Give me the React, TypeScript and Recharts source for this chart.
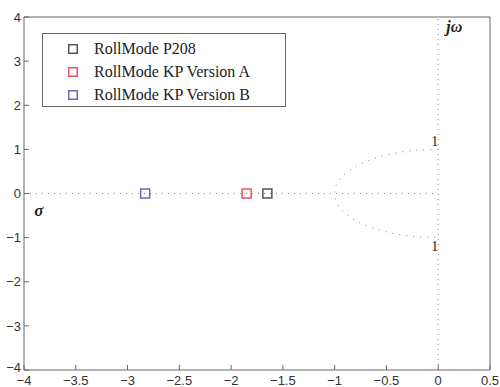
import React from "react"
import {
  ComposedChart,
  Line,
  Scatter,
  XAxis,
  YAxis,
  Legend,
  ReferenceDot,
} from "recharts"

const xTicks = [-4, -3.5, -3, -2.5, -2, -1.5, -1, -0.5, 0, 0.5]
const yTicks = [-4, -3, -2, -1, 0, 1, 2, 3, 4]

// poles
const p208 = [{ x: -1.65, y: 0 }]
const kpA = [{ x: -1.85, y: 0 }]
const kpB = [{ x: -2.83, y: 0 }]

// dotted guide lines
const realAxis = [{ x: -4, y: 0 }, { x: 0, y: 0 }]
const imagAxis = [{ x: 0, y: -4 }, { x: 0, y: 4 }]
const arc = [
  { x: 0, y: 1 },
  { x: -0.26, y: 0.97 },
  { x: -0.5, y: 0.87 },
  { x: -0.71, y: 0.71 },
  { x: -0.87, y: 0.5 },
  { x: -0.97, y: 0.26 },
  { x: -1, y: 0 },
  { x: -0.97, y: -0.26 },
  { x: -0.87, y: -0.5 },
  { x: -0.71, y: -0.71 },
  { x: -0.5, y: -0.87 },
  { x: -0.26, y: -0.97 },
  { x: 0, y: -1 },
]

const series = [
  { name: "RollMode P208", data: p208, color: "#555555" },
  { name: "RollMode KP Version A", data: kpA, color: "#e8555a" },
  { name: "RollMode KP Version B", data: kpB, color: "#6a6ab8" },
]

const AXIS = "#666"
const fmt = (v: number) => String(v).replace("-", "\u2212")

const BottomTick = (props: any) => {
  const { x, y, payload } = props
  return (
    <g>
      <line x1={x} y1={y} x2={x} y2={y - 5} stroke={AXIS} />
      <text x={x} y={y + 15} textAnchor="middle" fontSize={13} fill="#333" fontFamily="Liberation Sans, Arial">
        {fmt(payload.value)}
      </text>
    </g>
  )
}
const TopTick = (props: any) => {
  const { x, y } = props
  return <line x1={x} y1={y} x2={x} y2={y + 5} stroke={AXIS} />
}
const LeftTick = (props: any) => {
  const { x, y, payload } = props
  // lowest label sits a little higher so it clears the x label below it
  const ty = payload.value === -4 ? y - 3 : y
  return (
    <g>
      <line x1={x} y1={y} x2={x + 5} y2={y} stroke={AXIS} />
      <text x={x - 3} y={ty} dy="0.36em" textAnchor="end" fontSize={13} fill="#333" fontFamily="Liberation Sans, Arial">
        {fmt(payload.value)}
      </text>
    </g>
  )
}
const RightTick = (props: any) => {
  const { x, y } = props
  return <line x1={x} y1={y} x2={x - 5} y2={y} stroke={AXIS} />
}

const square = (color: string) => (props: any) => {
  const { cx, cy } = props
  return <rect x={cx - 4.5} y={cy - 4.5} width={9} height={9} fill="none" stroke={color} strokeWidth={1.5} />
}

const LegendBox = () => (
  <div
    style={{
      border: "1px solid #666",
      background: "#fff",
      width: 244,
      height: 74,
      boxSizing: "border-box",
      padding: "3px 0 0 25px",
      fontFamily: "Liberation Serif, Times New Roman, serif",
      fontSize: 16,
      color: "#222",
    }}
  >
    {series.map((s) => (
      <div key={s.name} style={{ display: "flex", alignItems: "center", height: 23 }}>
        <svg width={10} height={10} style={{ marginRight: 16 }}>
          <rect x={0.75} y={0.75} width={8.5} height={8.5} fill="none" stroke={s.color} strokeWidth={1.5} />
        </svg>
        <span>{s.name}</span>
      </div>
    ))}
  </div>
)

const textLabel = (txt: string, dx: number, dy: number, size: number, style: any) => (props: any) => {
  const { viewBox } = props
  const cx = viewBox.x + (viewBox.width || 0) / 2
  const cy = viewBox.y + (viewBox.height || 0) / 2
  return (
    <text x={cx + dx} y={cy + dy} fontSize={size} fontFamily="Liberation Serif, Times New Roman, serif" fill="#222"
      stroke="none" {...style}>
      {txt}
    </text>
  )
}

export default function App() {
  return (
    <div style={{ position: "absolute", left: 0, top: 0, background: "#fff" }}>
      <ComposedChart width={500} height={387} margin={{ top: 0, right: 0, bottom: 0, left: 0 }}>
        <XAxis xAxisId="b" type="number" dataKey="x" domain={[-4, 0.5]} ticks={xTicks} orientation="bottom" height={17}
          stroke={AXIS} tickSize={0} tickMargin={0} tick={<BottomTick />} interval={0} />
        <XAxis xAxisId="t" type="number" dataKey="x" domain={[-4, 0.5]} ticks={xTicks} orientation="top" height={17}
          stroke={AXIS} tickSize={0} tickMargin={0} tick={<TopTick />} interval={0} />
        <YAxis yAxisId="l" type="number" dataKey="y" domain={[-4, 4]} ticks={yTicks} orientation="left" width={24}
          stroke={AXIS} tickSize={0} tickMargin={0} tick={<LeftTick />} interval={0} />
        <YAxis yAxisId="r" type="number" dataKey="y" domain={[-4, 4]} ticks={yTicks} orientation="right" width={10}
          stroke={AXIS} tickSize={0} tickMargin={0} tick={<RightTick />} interval={0} />

        <Line xAxisId="b" yAxisId="l" data={realAxis} dataKey="y" stroke="#888" strokeDasharray="1 5" dot={false}
          isAnimationActive={false} legendType="none" />
        <Line xAxisId="b" yAxisId="l" data={imagAxis} dataKey="y" stroke="#888" strokeDasharray="1 4" dot={false}
          isAnimationActive={false} legendType="none" />
        <Line xAxisId="b" yAxisId="l" data={arc} dataKey="y" type="natural" stroke="#888" strokeDasharray="1 6" dot={false}
          isAnimationActive={false} legendType="none" />

        {series.map((s) => (
          <Scatter key={s.name} xAxisId="b" yAxisId="l" name={s.name} data={s.data} dataKey="y"
            shape={square(s.color)} isAnimationActive={false} />
        ))}

        <ReferenceDot xAxisId="b" yAxisId="l" x={-3.9} y={0} r={0} stroke="none"
          label={textLabel("\u03c3", 0, 22, 17, { fontWeight: "bold", fontStyle: "italic" })} />
        <ReferenceDot xAxisId="b" yAxisId="l" x={0} y={3.75} r={0} stroke="none"
          label={textLabel("j\u03c9", 8, 4, 16, { fontWeight: "bold", fontStyle: "italic" })} />
        <ReferenceDot xAxisId="b" yAxisId="l" x={0} y={1} r={0} stroke="none"
          label={textLabel("1", -7, -3, 14, {})} />
        <ReferenceDot xAxisId="b" yAxisId="l" x={0} y={-1} r={0} stroke="none"
          label={textLabel("1", -7, 13, 14, {})} />

        <Legend layout="vertical" align="center" verticalAlign="middle" content={<LegendBox />}
          wrapperStyle={{ position: "absolute", left: 42, top: 33, width: 244 }} />
      </ComposedChart>
    </div>
  )
}
